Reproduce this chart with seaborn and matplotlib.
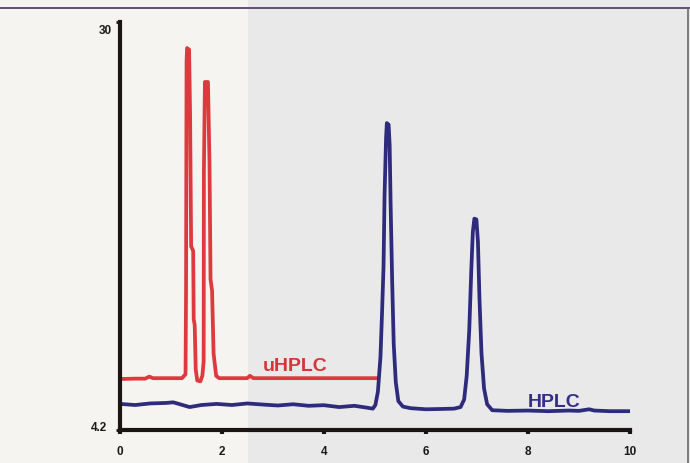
import numpy as np
import pandas as pd
import matplotlib
matplotlib.use("Agg")
import matplotlib.pyplot as plt
from matplotlib.patches import Rectangle
from matplotlib.lines import Line2D
import seaborn as sns

# ---- data (retention time, signal) ----
uhplc_x = [0.05, 0.30, 0.50, 0.58, 0.65, 1.00, 1.22, 1.29, 1.30, 1.31, 1.32, 1.36,
           1.38, 1.40, 1.44, 1.45, 1.47, 1.49, 1.52, 1.58, 1.62, 1.645, 1.65, 1.67,
           1.73, 1.76, 1.78, 1.81, 1.84, 1.89, 1.95, 2.50, 2.55, 2.62, 3.00, 3.50,
           4.00, 4.50, 5.06]
uhplc_y = [7.40, 7.42, 7.42, 7.55, 7.45, 7.45, 7.45, 7.70, 12.9, 27.5, 28.35, 28.25,
           24.0, 15.8, 15.5, 11.2, 10.8, 8.0, 7.30, 7.25, 7.60, 8.50, 20.5, 26.2,
           26.2, 21.0, 13.7, 13.0, 9.0, 7.60, 7.45, 7.45, 7.60, 7.45, 7.45, 7.45,
           7.45, 7.45, 7.45]

hplc_x = [0.05, 0.30, 0.60, 0.90, 1.05, 1.20, 1.37, 1.60, 1.90, 2.20, 2.50, 2.80,
          3.10, 3.40, 3.70, 4.00, 4.30, 4.60, 4.85, 4.96, 5.01, 5.06, 5.11, 5.14,
          5.17, 5.19, 5.22, 5.235, 5.27, 5.29, 5.31, 5.34, 5.37, 5.41, 5.46, 5.55,
          5.70, 6.00, 6.30, 6.55, 6.68, 6.75, 6.80, 6.85, 6.89, 6.92, 6.95, 6.99,
          7.02, 7.05, 7.09, 7.14, 7.20, 7.30, 7.60, 8.00, 8.40, 8.80, 9.00, 9.20,
          9.30, 9.60, 10.00]
hplc_y = [5.81, 5.75, 5.85, 5.88, 5.92, 5.78, 5.62, 5.75, 5.82, 5.75, 5.85, 5.78,
          5.72, 5.80, 5.70, 5.74, 5.62, 5.70, 5.58, 5.52, 5.75, 6.60, 8.80, 11.5,
          14.5, 19.0, 22.7, 23.6, 23.5, 22.2, 18.3, 13.5, 9.60, 7.20, 6.00, 5.65,
          5.55, 5.48, 5.50, 5.52, 5.62, 6.10, 7.60, 10.5, 14.3, 16.7, 17.55, 17.5,
          16.1, 12.5, 9.00, 6.80, 5.80, 5.42, 5.38, 5.40, 5.36, 5.40, 5.38, 5.48,
          5.40, 5.36, 5.36]

x_ticks = [0, 2, 4, 6, 8, 10]
y_ticks = [4.2, 30]
y_tick_labels = ["4.2", "30"]

series_names = ["uHPLC", "HPLC"]
series_colors = {"uHPLC": "#dc3a3e", "HPLC": "#2e2a7c"}
label_pos = {"uHPLC": (2.80, 8.25), "HPLC": (8.00, 6.00)}
label_colors = {"uHPLC": "#d93438", "HPLC": "#332f8a"}

df = pd.concat([
    pd.DataFrame({"t": uhplc_x, "signal": uhplc_y, "series": "uHPLC"}),
    pd.DataFrame({"t": hplc_x, "signal": hplc_y, "series": "HPLC"}),
], ignore_index=True)

sns.set_theme(style="white")
plt.rcParams["font.family"] = ["Liberation Sans", "DejaVu Sans"]

fig = plt.figure(figsize=(6.9, 4.64), dpi=100)
fig.patch.set_facecolor("#f6f4f0")
# page background panels (scanned page)
fig.patches.append(Rectangle((248 / 690, 0), 1 - 248 / 690, 1, transform=fig.transFigure,
                             facecolor="#e9e9ea", edgecolor="none", zorder=-5))
fig.lines.append(Line2D([0, 1], [1 - 9 / 464, 1 - 9 / 464], transform=fig.transFigure,
                        color="#4a3560", linewidth=1.2, zorder=-4))
fig.lines.append(Line2D([688 / 690, 688 / 690], [0, 1 - 9 / 464], transform=fig.transFigure,
                        color="#6a6a6a", linewidth=1.2, zorder=-4))

ax = fig.add_axes([119.7 / 690, 1 - 430.5 / 464, (630 - 119.7) / 690, (430.5 - 23) / 464])
ax.set_zorder(5)
ax.patch.set_alpha(0)

sns.lineplot(data=df, x="t", y="signal", hue="series", palette=series_colors,
             units="series", estimator=None, sort=False, legend=False,
             linewidth=2.7, ax=ax)

for name in series_names:
    lx, ly = label_pos[name]
    ax.text(lx, ly, name, color=label_colors[name], fontsize=14, fontweight="bold",
            ha="left", va="center")

ax.set_xlim(0, 10)
ax.set_ylim(4.2, 30)
ax.set_xlabel("")
ax.set_ylabel("")
ax.set_xticks(x_ticks)
ax.set_xticklabels([str(v) for v in x_ticks], fontsize=8.5, fontweight="bold", color="#1c1a18")
ax.set_yticks(y_ticks)
ax.set_yticklabels([])
# y tick labels placed with the same offsets as in the original print
y_label_offsets = {"4.2": (-13, 2.5), "30": (-8, -7.5)}
for val, lab in zip(y_ticks, y_tick_labels):
    ax.annotate(lab, xy=(0, val), xycoords=("axes fraction", "data"),
                xytext=y_label_offsets[lab], textcoords="offset pixels",
                ha="right", va="center", fontsize=8.5, fontweight="bold",
                color="#1c1a18", annotation_clip=False)

for side in ["top", "right"]:
    ax.spines[side].set_visible(False)
for side in ["left", "bottom"]:
    ax.spines[side].set_color("#1a1512")
    ax.spines[side].set_linewidth(3)
ax.tick_params(axis="x", direction="out", length=3, width=3, color="#1a1512", pad=8,
               bottom=True)
ax.tick_params(axis="y", direction="out", length=3, width=2, color="#1a1512", pad=4,
               left=True)
ax.grid(False)

fig.savefig("out.png", dpi=100, facecolor=fig.get_facecolor())
